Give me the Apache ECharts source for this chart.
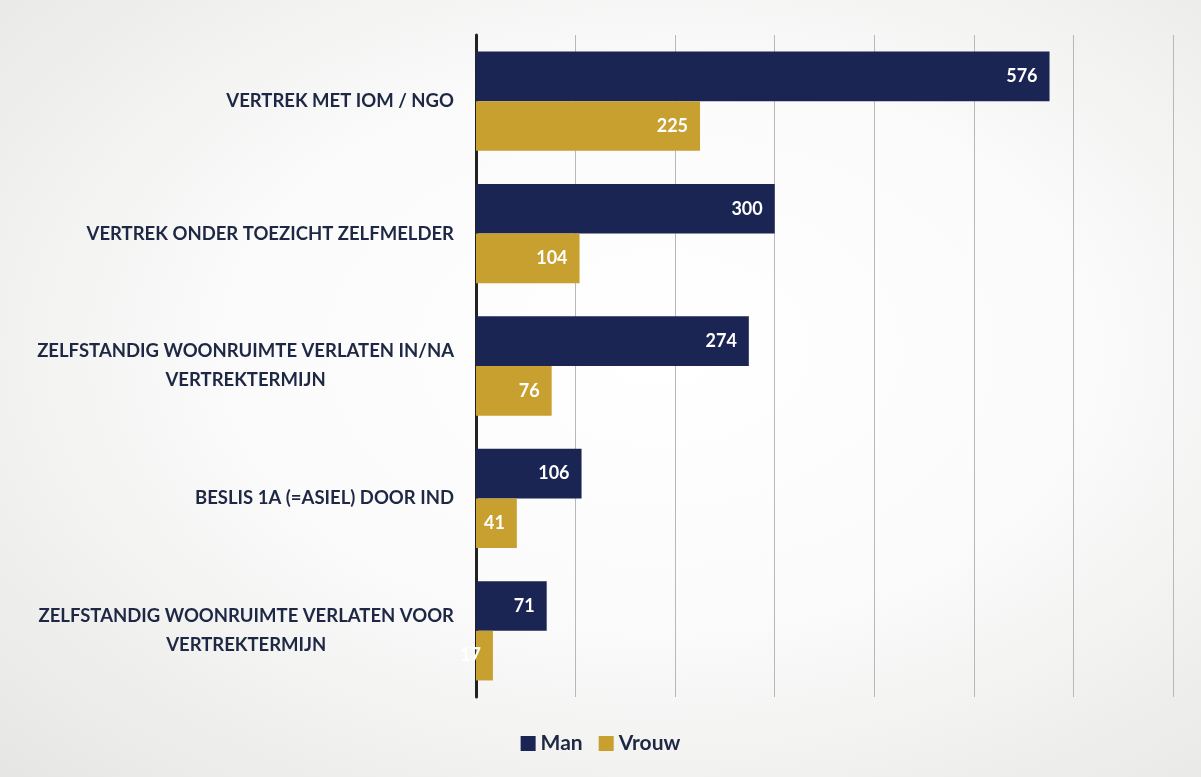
<!DOCTYPE html>
<html>
<head>
<meta charset="utf-8">
<script src="https://cdn.jsdelivr.net/npm/echarts@6/dist/echarts.min.js"></script>
<style>
  html, body { margin: 0; padding: 0; }
  body {
    width: 1201px; height: 777px;
    background: radial-gradient(ellipse at 55% 45%, #ffffff 0%, #fbfbfb 45%, #e6e6e4 100%);
  }
  #chart { width: 1201px; height: 777px; }
</style>
</head>
<body>
<div id="chart"></div>
<script>
// categorieën (van boven naar beneden)
const categories = [
    'VERTREK MET IOM / NGO',
    'VERTREK ONDER TOEZICHT ZELFMELDER',
    'ZELFSTANDIG WOONRUIMTE VERLATEN IN/NA\nVERTREKTERMIJN',
    'BESLIS 1A (=ASIEL) DOOR IND',
    'ZELFSTANDIG WOONRUIMTE VERLATEN VOOR\nVERTREKTERMIJN',
];
const manValues = [576, 300, 274, 106, 71];
const vrouwValues = [225, 104, 76, 41, 17];
const seriesNames = ['Man', 'Vrouw'];

const navy = '#1b2553';
const gold = '#c8a030';
const textColor = '#1e2844';

const chart = echarts.init(document.getElementById('chart'));

function barLabel() {
    return {
        show: true,
        position: 'insideRight',
        color: '#ffffff',
        fontFamily: 'Lato',
        fontWeight: 'bold',
        fontSize: 18,
        distance: 12,
    };
}

const option = {
    backgroundColor: 'transparent',
    textStyle: { fontFamily: 'Lato' },
    grid: {
        left: 476,
        right: 28,
        top: 35,
        bottom: 80,
        containLabel: false,
    },
    legend: {
        bottom: 18,
        left: 'center',
        itemWidth: 15,
        itemHeight: 15,
        itemGap: 16,
        icon: 'rect',
        textStyle: {
            color: textColor,
            fontSize: 21,
            fontWeight: 'bold',
            fontFamily: 'Lato',
        },
        data: seriesNames,
    },
    xAxis: {
        type: 'value',
        min: 0,
        max: 700,
        interval: 100,
        axisLabel: { show: false },
        axisLine: { show: false },
        axisTick: { show: false },
        splitLine: { lineStyle: { color: '#b8b8b8', width: 1 } },
    },
    yAxis: {
        type: 'category',
        inverse: true,
        data: categories,
        axisTick: { show: false },
        axisLine: { lineStyle: { color: '#222222', width: 3 } },
        axisLabel: {
            margin: 22,
            formatter: (v) => v.split('\n').map((l) => `{c|${l}}`).join('\n'),
            rich: {
                c: {
                    align: 'center',
                    color: textColor,
                    fontSize: 18.5,
                    fontWeight: 'bold',
                    fontFamily: 'Lato',
                    lineHeight: 29,
                },
            },
        },
    },
    series: [
        {
            name: seriesNames[0],
            type: 'bar',
            data: manValues,
            barGap: '0%',
            barCategoryGap: '25%',
            clip: false,
            itemStyle: { color: navy },
            label: barLabel(),
        },
        {
            name: seriesNames[1],
            type: 'bar',
            data: vrouwValues,
            clip: false,
            z: 5,
            itemStyle: { color: gold },
            label: barLabel(),
        },
    ],
};

chart.setOption(option);
</script>
</body>
</html>
